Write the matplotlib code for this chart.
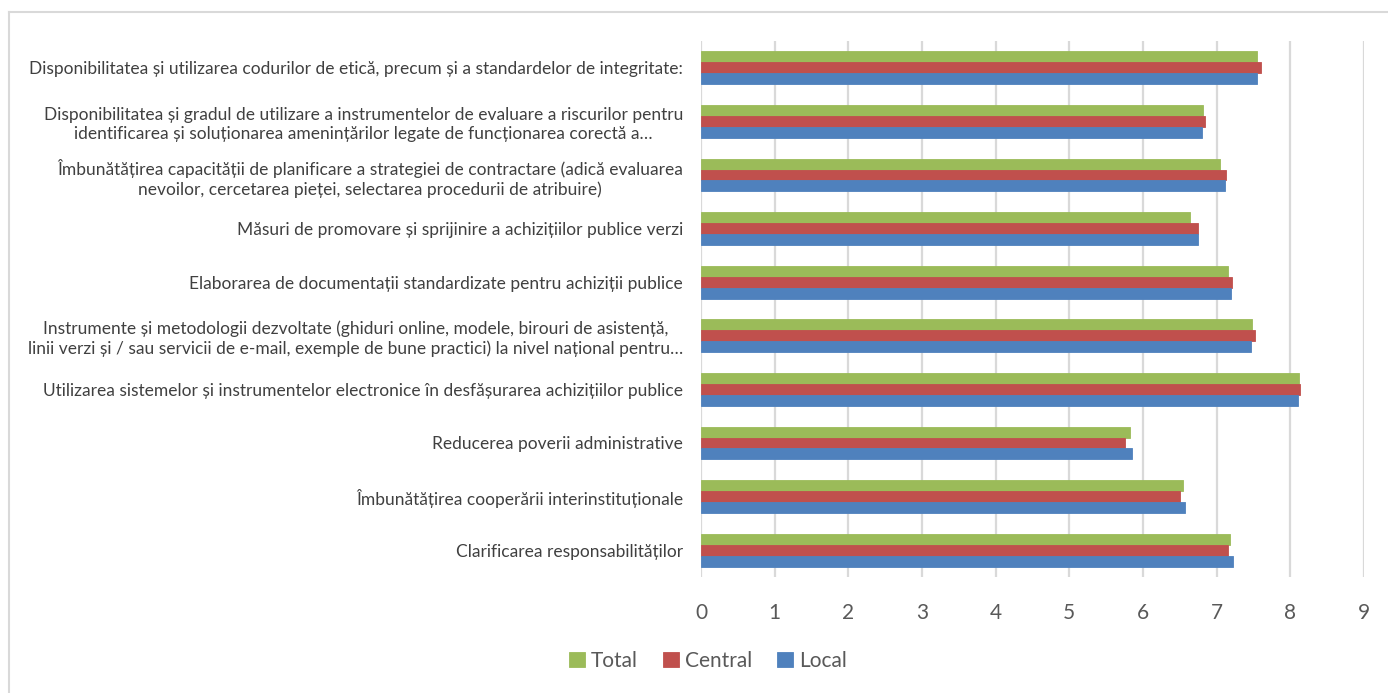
import matplotlib
matplotlib.use("Agg")
import matplotlib.pyplot as plt
from matplotlib.lines import Line2D
import numpy as np

plt.rcParams['font.family'] = ['Lato', 'DejaVu Sans']

categories = [
    "Disponibilitatea și utilizarea codurilor de etică, precum și a standardelor de integritate:",
    "Disponibilitatea și gradul de utilizare a instrumentelor de evaluare a riscurilor pentru\nidentificarea și soluționarea amenințărilor legate de funcționarea corectă a…",
    "Îmbunătățirea capacității de planificare a strategiei de contractare (adică evaluarea\nnevoilor, cercetarea pieței, selectarea procedurii de atribuire)",
    "Măsuri de promovare și sprijinire a achizițiilor publice verzi",
    "Elaborarea de documentații standardizate pentru achiziții publice",
    "Instrumente și metodologii dezvoltate (ghiduri online, modele, birouri de asistență,\nlinii verzi și / sau servicii de e-mail, exemple de bune practici) la nivel național pentru…",
    "Utilizarea sistemelor și instrumentelor electronice în desfășurarea achizițiilor publice",
    "Reducerea poverii administrative",
    "Îmbunătățirea cooperării interinstituționale",
    "Clarificarea responsabilităților",
]
total   = [7.55, 6.81, 7.05, 6.64, 7.15, 7.48, 8.12, 5.83, 6.54, 7.18]
central = [7.60, 6.84, 7.12, 6.75, 7.21, 7.52, 8.13, 5.75, 6.50, 7.15]
local   = [7.55, 6.80, 7.11, 6.74, 7.19, 7.47, 8.11, 5.85, 6.57, 7.22]
series_names = ["Total", "Central", "Local"]
colors = ["#9BBB59", "#C0504D", "#4F81BD"]
xticks = list(range(0, 10))

W, H = 1388, 693
fig = plt.figure(figsize=(W / 100, H / 100), dpi=100)
ax = fig.add_axes([701 / W, 1 - 577 / H, (1364 - 701) / W, (577 - 41) / H])

y = np.arange(len(categories))
h = 0.205
for vals, off, c, name in zip([total, central, local], [-h, 0, h], colors, series_names):
    ax.barh(y + off, vals, height=h, color=c, label=name, zorder=3,
            edgecolor=c, linewidth=0.6)

ax.set_ylim(len(categories) - 0.5, -0.5)
ax.set_xlim(0, 9)
ax.set_xticks(xticks)
ax.set_xticklabels([str(t) for t in xticks], fontsize=15, color="#595959")
ax.set_yticks(y)
labels = ax.set_yticklabels(categories, fontsize=12.5, color="#404040")
for lb in labels:
    lb.set_multialignment("center")
    lb.set_linespacing(1.25)
ax.tick_params(axis="y", length=0, pad=13)
ax.tick_params(axis="x", length=0, pad=19)
ax.grid(axis="x", color="#D9D9D9", linewidth=1.6, zorder=0)
ax.grid(axis="y", visible=False)
for s in ax.spines.values():
    s.set_visible(False)

leg = fig.legend(loc="center", bbox_to_anchor=(708 / W, 1 - 661 / H), ncol=3,
                 frameon=False, fontsize=15, handlelength=0.75, handleheight=0.75,
                 handletextpad=0.3, columnspacing=1.2)
for t in leg.get_texts():
    t.set_color("#595959")

# outer chart frame (top and left edges visible)
fig.add_artist(Line2D([9 / W, 1.0], [1 - 12 / H, 1 - 12 / H], transform=fig.transFigure,
                      color="#D9D9D9", linewidth=1.5))
fig.add_artist(Line2D([9 / W, 9 / W], [0, 1 - 12 / H], transform=fig.transFigure,
                      color="#D9D9D9", linewidth=1.5))

fig.savefig("out.png", dpi=100)
